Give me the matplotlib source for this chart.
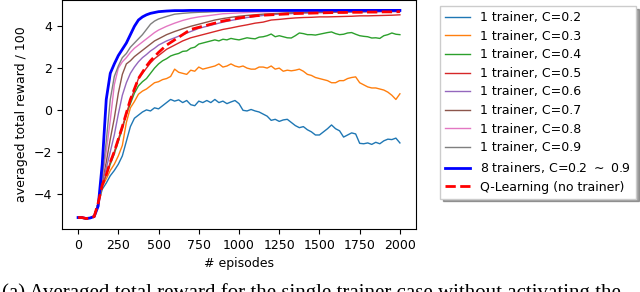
import numpy as np
import matplotlib.pyplot as plt

# coarse grid: every 25 up to 500, then every 50
episodes = list(range(0, 500, 25)) + list(range(500, 2001, 50))
# fine grid (every 25) for the noisy low curves
episodes_fine = list(range(0, 2001, 25))

rise_c02 = [-5.15, -5.15, -5.2, -5.17, -5.1, -4.5, -3.8, -3.5, -3.15, -2.9, -2.6, -2.2, -1.5, -0.8, -0.4, -0.25, -0.1, 0.0, -0.05, 0.1]
c02 = rise_c02 + [
    0.05, 0.2, 0.35, 0.5, 0.42, 0.48, 0.35, 0.45, 0.25, 0.2,
    0.42, 0.35, 0.45, 0.35, 0.5, 0.35, 0.42, 0.3, 0.38, 0.45,
    0.3, -0.02, -0.05, 0.02, -0.05, -0.1, -0.2, -0.3, -0.5, -0.45,
    -0.55, -0.48, -0.45, -0.6, -0.75, -0.85, -0.8, -0.95, -1.05, -1.2,
    -1.2, -1.05, -0.9, -0.72, -0.9, -1.0, -1.3, -1.2, -1.1, -1.15,
    -1.6, -1.62, -1.58, -1.65, -1.55, -1.62, -1.48, -1.4, -1.42, -1.35,
    -1.58]
rise_c03 = [-5.15, -5.15, -5.2, -5.17, -5.1, -4.45, -3.65, -3.3, -2.9, -2.6, -2.2, -1.7, -0.6, 0.1, 0.4, 0.75, 0.9, 1.0, 1.15, 1.3]
c03 = rise_c03 + [
    1.35, 1.45, 1.5, 1.6, 1.95, 1.8, 1.75, 1.7, 1.9, 1.85,
    2.05, 1.95, 2.0, 2.05, 2.1, 2.2, 2.05, 2.1, 2.2, 2.1,
    2.05, 2.1, 2.0, 1.95, 1.95, 2.05, 2.05, 2.0, 2.1, 1.95,
    2.0, 1.85, 1.9, 1.87, 1.9, 1.95, 1.85, 1.7, 1.65, 1.55,
    1.5, 1.45, 1.4, 1.3, 1.3, 1.4, 1.4, 1.5, 1.55, 1.58,
    1.3, 1.2, 1.1, 1.05, 1.05, 1.0, 0.95, 0.85, 0.7, 0.5,
    0.77]
rise_c04 = [-5.15, -5.15, -5.2, -5.17, -5.1, -4.45, -3.6, -3.1, -2.6, -2.1, -1.5, -0.9, -0.2, 0.3, 0.8, 1.15, 1.35, 1.5, 1.75, 2.0]
c04 = rise_c04 + [
    2.2, 2.35, 2.45, 2.58, 2.65, 2.7, 2.8, 2.82, 2.95, 3.0,
    3.15, 3.2, 3.25, 3.3, 3.35, 3.3, 3.38, 3.35, 3.42, 3.38,
    3.35, 3.4, 3.45, 3.42, 3.4, 3.48, 3.5, 3.55, 3.63, 3.5,
    3.55, 3.5, 3.45, 3.44, 3.55, 3.68, 3.65, 3.6, 3.6, 3.58,
    3.62, 3.66, 3.7, 3.73, 3.65, 3.6, 3.62, 3.68, 3.7, 3.62,
    3.55, 3.52, 3.5, 3.44, 3.45, 3.42, 3.55, 3.6, 3.68, 3.62,
    3.6]

c05 = [-5.15, -5.15, -5.2, -5.17, -5.1, -4.45, -3.6, -3.1, -2.5, -2.0, -1.4, -0.8, -0.2, 0.45, 0.95, 1.5, 1.75, 2.0, 2.25, 2.45,
       2.6, 2.9, 3.1, 3.3, 3.45, 3.55, 3.65, 3.75, 3.85, 3.92, 4.0, 4.07, 4.15, 4.2, 4.3, 4.33, 4.37, 4.4, 4.42, 4.43,
       4.45, 4.45, 4.46, 4.47, 4.48, 4.5, 4.5, 4.51, 4.52, 4.53, 4.55]
c06 = [-5.15, -5.15, -5.2, -5.17, -5.1, -4.45, -3.5, -2.8, -2.0, -1.2, -0.2, 0.7, 1.3, 1.75, 2.05, 2.3, 2.5, 2.65, 2.82, 2.95,
       3.1, 3.3, 3.45, 3.6, 3.75, 3.9, 4.0, 4.1, 4.2, 4.28, 4.35, 4.42, 4.47, 4.52, 4.56, 4.58, 4.6, 4.62, 4.63, 4.64,
       4.65, 4.66, 4.67, 4.67, 4.68, 4.68, 4.69, 4.69, 4.7, 4.7, 4.7]
c07 = [-5.15, -5.15, -5.2, -5.17, -5.1, -4.45, -3.4, -2.5, -1.4, -0.4, 0.8, 1.7, 2.2, 2.35, 2.55, 2.7, 2.85, 3.0, 3.15, 3.3,
       3.4, 3.6, 3.75, 3.88, 4.0, 4.1, 4.2, 4.3, 4.37, 4.43, 4.48, 4.52, 4.55, 4.58, 4.6, 4.62, 4.64, 4.65, 4.66, 4.67,
       4.68, 4.68, 4.69, 4.69, 4.7, 4.7, 4.71, 4.71, 4.72, 4.72, 4.72]
c08 = [-5.15, -5.15, -5.2, -5.17, -5.1, -4.45, -3.3, -2.0, -0.5, 1.2, 2.0, 2.3, 2.5, 2.75, 2.95, 3.1, 3.25, 3.4, 3.55, 3.7,
       3.82, 4.0, 4.15, 4.28, 4.38, 4.45, 4.5, 4.55, 4.6, 4.62, 4.64, 4.66, 4.68, 4.69, 4.7, 4.71, 4.72, 4.72, 4.73, 4.73,
       4.73, 4.74, 4.74, 4.74, 4.74, 4.75, 4.75, 4.75, 4.75, 4.75, 4.75]
c09 = [-5.15, -5.15, -5.2, -5.17, -5.1, -4.45, -3.2, -1.5, 0.5, 1.6, 2.1, 2.5, 2.7, 3.0, 3.2, 3.4, 3.6, 3.85, 4.1, 4.25,
       4.35, 4.47, 4.58, 4.62, 4.65, 4.67, 4.68, 4.7, 4.71, 4.72, 4.72, 4.73, 4.73, 4.74, 4.74, 4.74, 4.75, 4.75, 4.75, 4.75,
       4.75, 4.75, 4.76, 4.76, 4.76, 4.76, 4.76, 4.76, 4.76, 4.76, 4.76]
multi = [-5.15, -5.15, -5.2, -5.17, -5.1, -4.6, -2.6, 0.5, 1.75, 2.2, 2.6, 2.9, 3.2, 3.6, 4.0, 4.3, 4.45, 4.55, 4.62, 4.66,
         4.7, 4.73, 4.75, 4.75, 4.76, 4.76, 4.76, 4.76, 4.76, 4.76, 4.76, 4.76, 4.76, 4.76, 4.76, 4.76, 4.76, 4.76, 4.76, 4.76,
         4.76, 4.76, 4.76, 4.76, 4.76, 4.76, 4.76, 4.76, 4.76, 4.76, 4.76]
qlearn = [-5.15, -5.15, -5.2, -5.17, -5.1, -4.45, -3.6, -3.1, -2.5, -2.0, -1.4, -0.8, -0.15, 0.5, 1.0, 1.5, 1.8, 2.1, 2.35, 2.55,
          2.75, 3.1, 3.35, 3.6, 3.85, 3.95, 4.05, 4.15, 4.25, 4.32, 4.4, 4.45, 4.5, 4.53, 4.55, 4.57, 4.59, 4.61, 4.62, 4.63,
          4.64, 4.65, 4.66, 4.66, 4.67, 4.67, 4.68, 4.68, 4.69, 4.69, 4.7]

single = [(episodes_fine, c02), (episodes_fine, c03), (episodes_fine, c04), (episodes, c05),
          (episodes, c06), (episodes, c07), (episodes, c08), (episodes, c09)]
cvals = ['0.2', '0.3', '0.4', '0.5', '0.6', '0.7', '0.8', '0.9']

fig = plt.figure(figsize=(6.4, 2.92), dpi=100)
ax = fig.add_axes([62/640, 63/292, 354/640, 229/292])

for (xs, vals), c in zip(single, cvals):
    ax.plot(xs, vals, linewidth=1, label='1 trainer, C=' + c)
ax.plot(episodes, multi, 'b', linewidth=2, label=r'8 trainers, C=0.2 $\sim$ 0.9')
ax.plot(episodes, qlearn, 'r--', linewidth=2, label='Q-Learning (no trainer)')

ax.set_xticks([0, 250, 500, 750, 1000, 1250, 1500, 1750, 2000])
ax.set_yticks([-4, -2, 0, 2, 4])
ax.tick_params(labelsize=9)
ax.set_xlabel('# episodes', fontsize=9)
ax.set_ylabel('averaged total reward / 100', fontsize=9)

fig.legend(loc='upper left', bbox_to_anchor=(440/640, 1 - 6/292), borderaxespad=0,
           fontsize=9, labelspacing=0.45, shadow=True, fancybox=False)

# figure caption, cut at the bottom edge as in the source page
fig.text(0.003, -6/292, '(a) Averaged total reward for the single trainer case without activating the',
         family='Liberation Serif', fontsize=15, va='baseline', ha='left')

fig.savefig('out.png', dpi=100)
